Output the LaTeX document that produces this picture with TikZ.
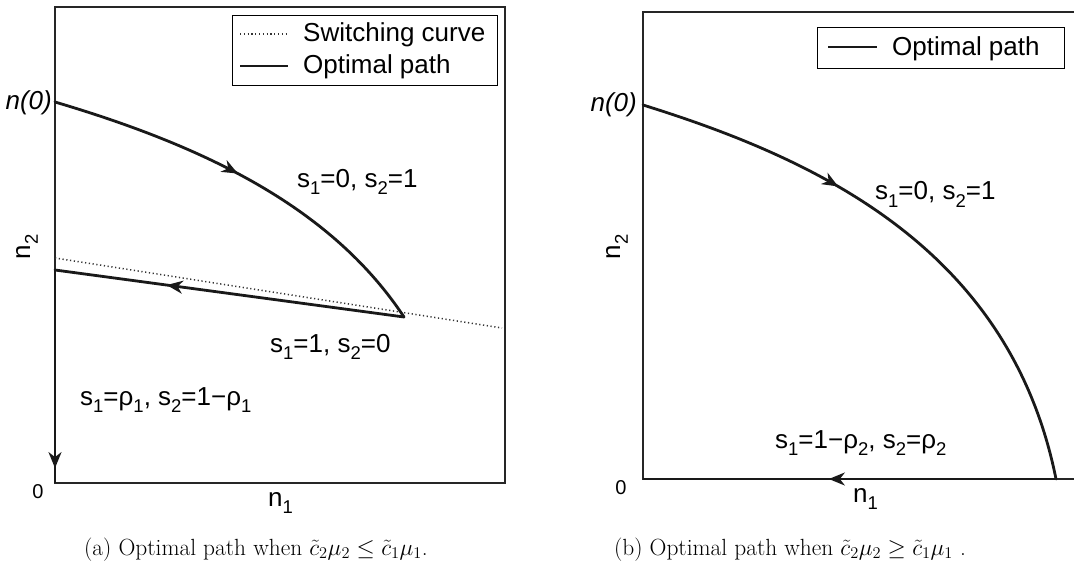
\RequirePackage{fix-cm}
\documentclass[tikz,border=0pt]{standalone}
\usepackage[no-math]{fontspec}
\newfontfamily\arial{Liberation Sans}
\usetikzlibrary{arrows.meta,decorations.markings}
\newcommand\lsb[1]{\raisebox{-0.3em}{\fontsize{18.5}{20}\selectfont #1}}
\tikzset{
  lbl/.style={font=\arial\fontsize{26}{30}\selectfont, inner sep=0pt},
  lbli/.style={font=\arial\itshape\fontsize{26}{30}\selectfont, inner sep=0pt},
  axframe/.style={line width=1.4pt, black!85},
  optpath/.style={line width=2.8pt, black!90, line cap=round, line join=round},
  axpath/.style={line width=2pt, black!90},
  swc/.style={line width=1.5pt, black!80, dash pattern=on 1.2pt off 2.6pt},
  legbox/.style={draw, line width=1.2pt, fill=white, inner sep=0pt},
  captxt/.style={font=\fontsize{23.4}{27}\selectfont, inner sep=0pt},
  midarrow/.style={postaction={decorate, decoration={markings,
      mark=at position #1 with {\arrow{Stealth[length=16pt,width=13pt,inset=5pt]}}}}},
}
\begin{document}
\begin{tikzpicture}[x=1pt,y=-1pt]
\useasboundingbox (0,0) rectangle (1074,567);
% ---------------- left panel ----------------
\coordinate (LTL) at (55,7);
\coordinate (LTR) at (505,7);
\coordinate (LBR) at (505,483);
\coordinate (LO) at (55,483);
\draw[axframe] (LO) -- (LTL) -- (LTR) -- (LBR) -- cycle;
\coordinate (SW1) at (55,258);
\coordinate (SW2) at (502,328);
\draw[swc] (SW1) -- (SW2);
\coordinate (LA) at (55,102);
\coordinate (LB) at (404,317);
\coordinate (LC) at (55,270);
\draw[optpath, midarrow=0.47] (LA) .. controls (200,145) and (330,205) .. (LB);
\draw[optpath, midarrow=0.68] (LB) -- (LC);
\draw[axpath, midarrow=0.93] (LC) -- (LO);
% legend
\node[legbox, anchor=north west, minimum width=265pt, minimum height=70pt] (legL) at (232,15) {};
\draw[swc] (240,34) -- (288,34);
\node[lbl, anchor=base west] (legLa) at (303,42) {Switching curve};
\draw[optpath, line cap=butt] (240,66) -- (288,66);
\node[lbl, anchor=base west] (legLb) at (303,74) {Optimal path};
% labels
\node[lbli, anchor=base east] (n0L) at (52,110) {n(0)};
\node[lbl, anchor=base west] (tL1) at (297,187) {s\lsb{1}=0, s\lsb{2}=1};
\node[lbl, anchor=base west] (tL2) at (270,352) {s\lsb{1}=1, s\lsb{2}=0};
\node[lbl, anchor=base west] (tL3) at (80,405) {s\lsb{1}=ρ\lsb{1}, s\lsb{2}=1−ρ\lsb{1}};
\node[font=\arial\fontsize{20}{22}\selectfont, inner sep=0pt] (zL) at (38,492) {0};
\node[lbl, anchor=base west] (n1L) at (268,506) {n\lsb{1}};
\node[lbl, rotate=90, anchor=center] (n2L) at (27,247) {n\lsb{2}};
\node[captxt, anchor=base] (capA) at (256,555) {(a) Optimal path when $\tilde{c}_2\mu_2 \leq \tilde{c}_1\mu_1$.};
% ---------------- right panel ----------------
\coordinate (RTL) at (643,12);
\coordinate (RTR) at (1074,12);
\coordinate (RBR) at (1074,479);
\coordinate (RO) at (643,479);
\draw[axframe] (RTR) -- (RTL) -- (RO) -- (RBR);
\coordinate (RA) at (643,105);
\coordinate (RB) at (1056,479);
\draw[optpath, midarrow=0.36] (RA) .. controls (820,160) and (1010,250) .. (RB);
\draw[axpath, midarrow=0.55] (RB) -- (RO);
\node[legbox, anchor=north west, minimum width=247pt, minimum height=41pt] (legR) at (817,27) {};
\draw[optpath, line cap=butt] (828,47) -- (877,47);
\node[lbl, anchor=base west] (legRa) at (892,56) {Optimal path};
\node[lbli, anchor=base east] (n0R) at (637,112) {n(0)};
\node[lbl, anchor=base west] (tR1) at (875,200) {s\lsb{1}=0, s\lsb{2}=1};
\node[lbl, anchor=base west] (tR2) at (775,448) {s\lsb{1}=1−ρ\lsb{2}, s\lsb{2}=ρ\lsb{2}};
\node[font=\arial\fontsize{20}{22}\selectfont, inner sep=0pt] (zR) at (621,488) {0};
\node[lbl, anchor=base west] (n1R) at (853,502) {n\lsb{1}};
\node[lbl, rotate=90, anchor=center] (n2R) at (617,247) {n\lsb{2}};
\node[captxt, anchor=base] (capB) at (790,555) {(b) Optimal path when $\tilde{c}_2\mu_2 \geq \tilde{c}_1\mu_1$ .};
\end{tikzpicture}
\end{document}
